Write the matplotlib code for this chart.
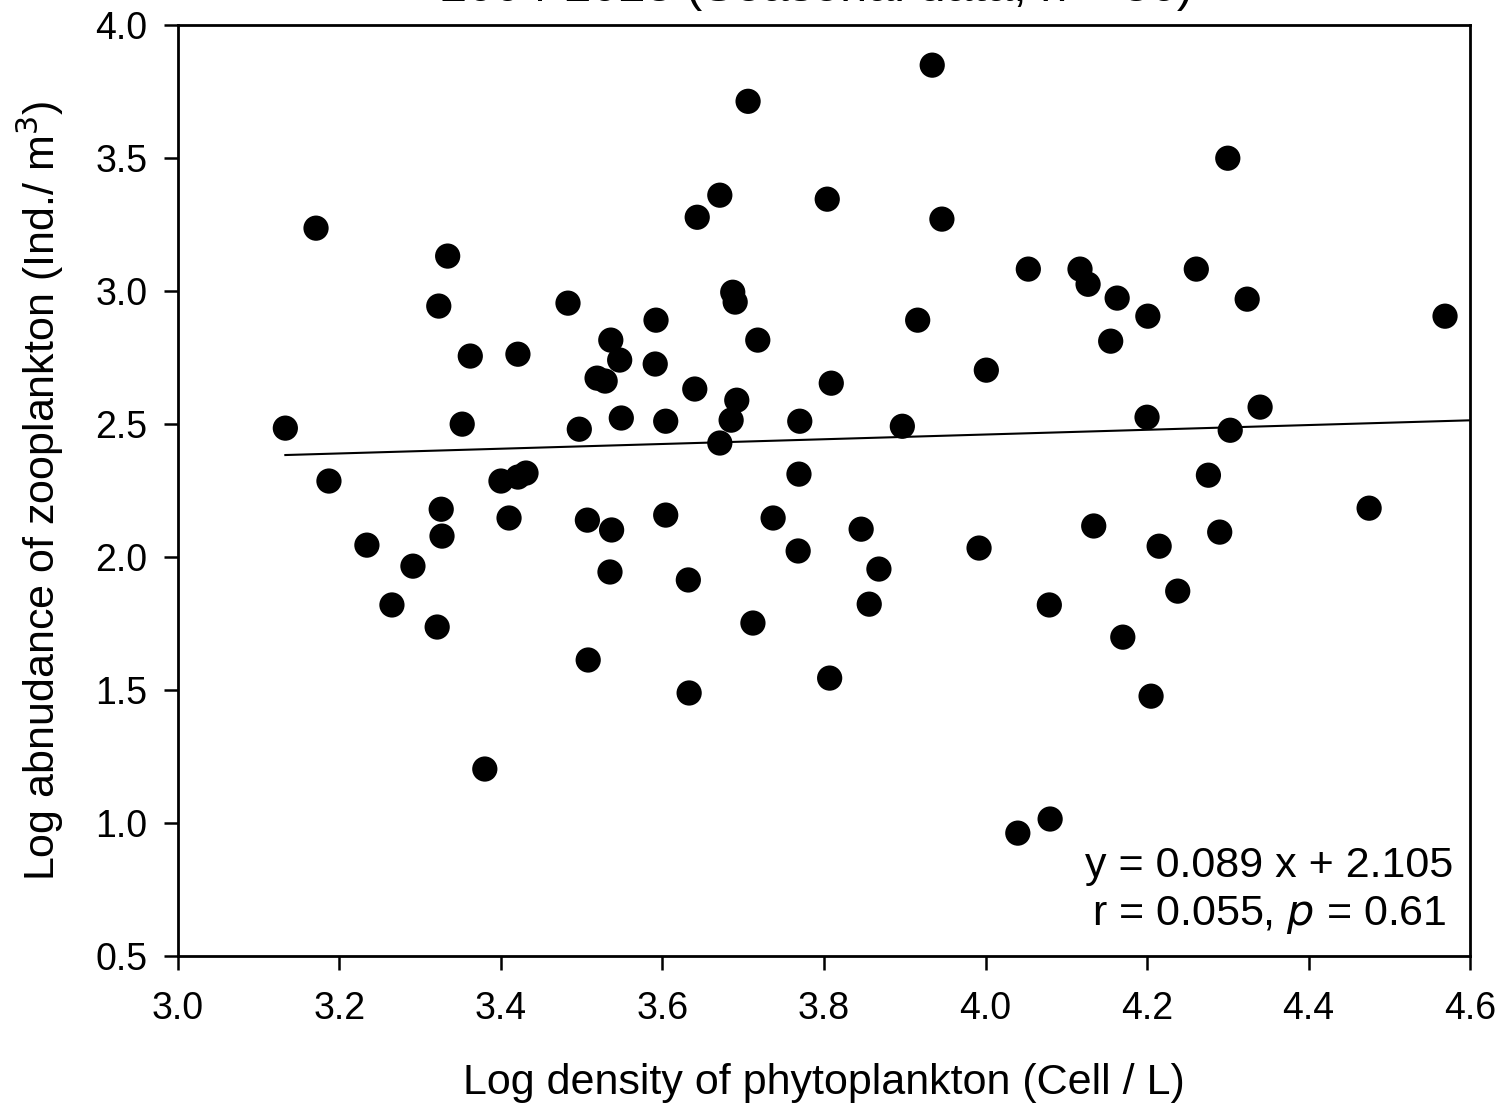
import numpy as np
import matplotlib.pyplot as plt

plt.rcParams['font.family'] = ['Liberation Sans', 'DejaVu Sans']

### Data
phyto = [3.133, 3.171, 3.187, 3.234, 3.265, 3.291, 3.321, 3.323, 3.326, 3.327,
         3.334, 3.352, 3.362, 3.380, 3.400, 3.410, 3.421, 3.431, 3.421, 3.483,
         3.497, 3.507, 3.508, 3.519, 3.529, 3.536, 3.537, 3.535, 3.547, 3.549,
         3.591, 3.592, 3.604, 3.604, 3.632, 3.633, 3.640, 3.643, 3.671, 3.671,
         3.685, 3.687, 3.690, 3.692, 3.706, 3.712, 3.718, 3.737, 3.768, 3.769,
         3.770, 3.804, 3.807, 3.809, 3.846, 3.856, 3.868, 3.897, 3.916, 3.934,
         3.946, 3.992, 4.001, 4.040, 4.053, 4.079, 4.080, 4.117, 4.127, 4.134,
         4.155, 4.163, 4.170, 4.200, 4.201, 4.205, 4.215, 4.238, 4.261, 4.276,
         4.290, 4.300, 4.303, 4.324, 4.340, 4.475, 4.569]
zoo = [2.485, 3.237, 2.286, 2.045, 1.820, 1.966, 1.737, 2.944, 2.180, 2.079,
       3.132, 2.500, 2.756, 1.203, 2.286, 2.147, 2.301, 2.316, 2.763, 2.955,
       2.481, 2.139, 1.613, 2.673, 2.662, 2.816, 2.102, 1.944, 2.741, 2.523,
       2.726, 2.891, 2.511, 2.158, 1.914, 1.489, 2.632, 3.278, 3.361, 2.429,
       2.515, 2.996, 2.959, 2.590, 3.714, 1.752, 2.816, 2.147, 2.023, 2.312,
       2.511, 3.346, 1.545, 2.654, 2.105, 1.823, 1.955, 2.492, 2.891, 3.850,
       3.271, 2.034, 2.703, 0.962, 3.083, 1.820, 1.015, 3.083, 3.026, 2.117,
       2.812, 2.974, 1.699, 2.526, 2.906, 1.477, 2.041, 1.872, 3.083, 2.308,
       2.094, 3.500, 2.477, 2.970, 2.564, 2.184, 2.906]

slope = 0.089
intercept = 2.105
r_value = 0.055
p_value = 0.61

x_ticks = [3.0, 3.2, 3.4, 3.6, 3.8, 4.0, 4.2, 4.4, 4.6]
y_ticks = [0.5, 1.0, 1.5, 2.0, 2.5, 3.0, 3.5, 4.0]

#%% Plot
fig = plt.figure(figsize=(14.99, 11.08), dpi=100)
ax = fig.add_axes([0.1187, 0.1372, 0.862, 0.840])

ax.scatter(phyto, zoo, s=330, color='black', edgecolors='none', zorder=3)

# regression line from smallest x to the right edge of the axis
x_fit = np.array([min(phyto), 4.6])
ax.plot(x_fit, slope * x_fit + intercept, color='black', lw=1.5, zorder=2)

ax.set_xlim(3.0, 4.6)
ax.set_ylim(0.5, 4.0)
ax.set_xticks(x_ticks)
ax.set_yticks(y_ticks)
ax.set_xticklabels(['{:.1f}'.format(v) for v in x_ticks])
ax.set_yticklabels(['{:.1f}'.format(v) for v in y_ticks])
ax.tick_params(direction='out', length=10, width=1.8, labelsize=27)
ax.tick_params(axis='y', pad=12)
ax.tick_params(axis='x', pad=15)
for sp in ax.spines.values():
    sp.set_linewidth(2)

ax.set_xlabel('Log density of phytoplankton (Cell / L)', fontsize=31, labelpad=26)
ax.set_ylabel('Log abnudance of zooplankton (Ind./ m$^3$)', fontsize=31, labelpad=21)

stats = 'y = {:.3f} x + {:.3f}\nr = {:.3f}, $\\it{{p}}$ = {:.2f}'.format(
    slope, intercept, r_value, p_value)
ax.text(4.351, 0.617, stats, fontsize=31, ha='center', va='baseline',
        multialignment='center', linespacing=1.25)

# title, cut off by the top edge as in the original
fig.text(0.545, 1 - 1 / 1108, '2004-2023 (Seasonal data, n = 86)', fontsize=35,
         ha='center', va='baseline')
# legend marker partly outside the figure on the right
fig.text(1499.5 / 1499, 1 - 72 / 1108, '\u25cf', fontsize=20, ha='left', va='center')

fig.savefig('out.png', dpi=100)
